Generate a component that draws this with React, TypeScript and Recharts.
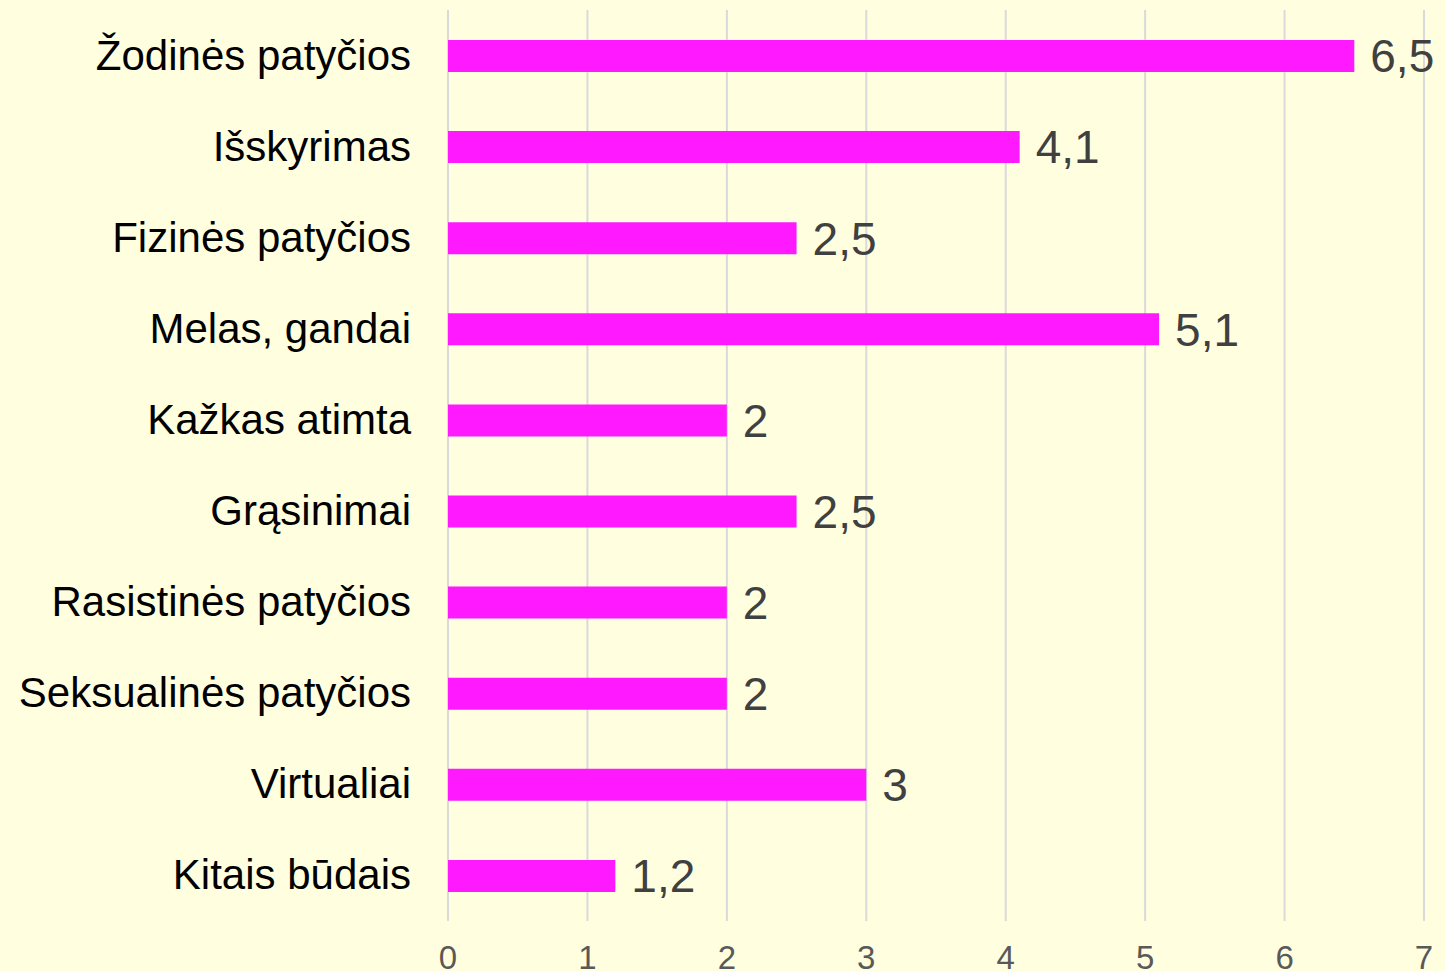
import React from 'react';
import { BarChart, Bar, XAxis, YAxis, CartesianGrid, LabelList } from 'recharts';

const categories = [
  'Žodinės patyčios',
  'Išskyrimas',
  'Fizinės patyčios',
  'Melas, gandai',
  'Kažkas atimta',
  'Grąsinimai',
  'Rasistinės patyčios',
  'Seksualinės patyčios',
  'Virtualiai',
  'Kitais būdais',
];
const values = [6.5, 4.1, 2.5, 5.1, 2, 2.5, 2, 2, 3, 1.2];
const xTicks = [0, 1, 2, 3, 4, 5, 6, 7];

const data = categories.map((name, i) => ({ name, value: values[i] }));

const FONT = '"Liberation Sans", Arial, sans-serif';

const YTick = (props: any) => {
  const { x, y, payload } = props;
  return (
    <text x={x} y={y} dy={14} textAnchor="end" fontSize={42} fill="#000" fontFamily={FONT}>
      {payload.value}
    </text>
  );
};

const XTick = (props: any) => {
  const { x, y, payload } = props;
  return (
    <text x={x} y={y} dy={40} textAnchor="middle" fontSize={33} fill="#595959" fontFamily={FONT}>
      {payload.value}
    </text>
  );
};

export default function App() {
  return (
    <div style={{ position: 'fixed', left: 0, top: 0, width: 1445, height: 971, background: '#FFFFE0', overflow: 'hidden' }}>
      <BarChart
        layout="vertical"
        width={1445}
        height={971}
        data={data}
        margin={{ top: 10, right: 21, bottom: 0, left: 0 }}
      >
        <CartesianGrid horizontal={false} stroke="#D9D9D9" strokeWidth={2} />
        <XAxis
          type="number"
          domain={[0, 7]}
          ticks={xTicks}
          axisLine={false}
          tickLine={false}
          tick={<XTick />}
          height={50}
          interval={0}
        />
        <YAxis
          type="category"
          dataKey="name"
          width={448}
          axisLine={false}
          tickLine={false}
          tickMargin={31}
          tick={<YTick />}
          interval={0}
        />
        <Bar dataKey="value" fill="#FF19FF" barSize={32} isAnimationActive={false}>
          <LabelList
            dataKey="value"
            position="right"
            offset={16}
            fill="#404040"
            fontSize={46}
            fontFamily={FONT}
            formatter={(v: any) => String(v).replace('.', ',')}
          />
        </Bar>
      </BarChart>
    </div>
  );
}
